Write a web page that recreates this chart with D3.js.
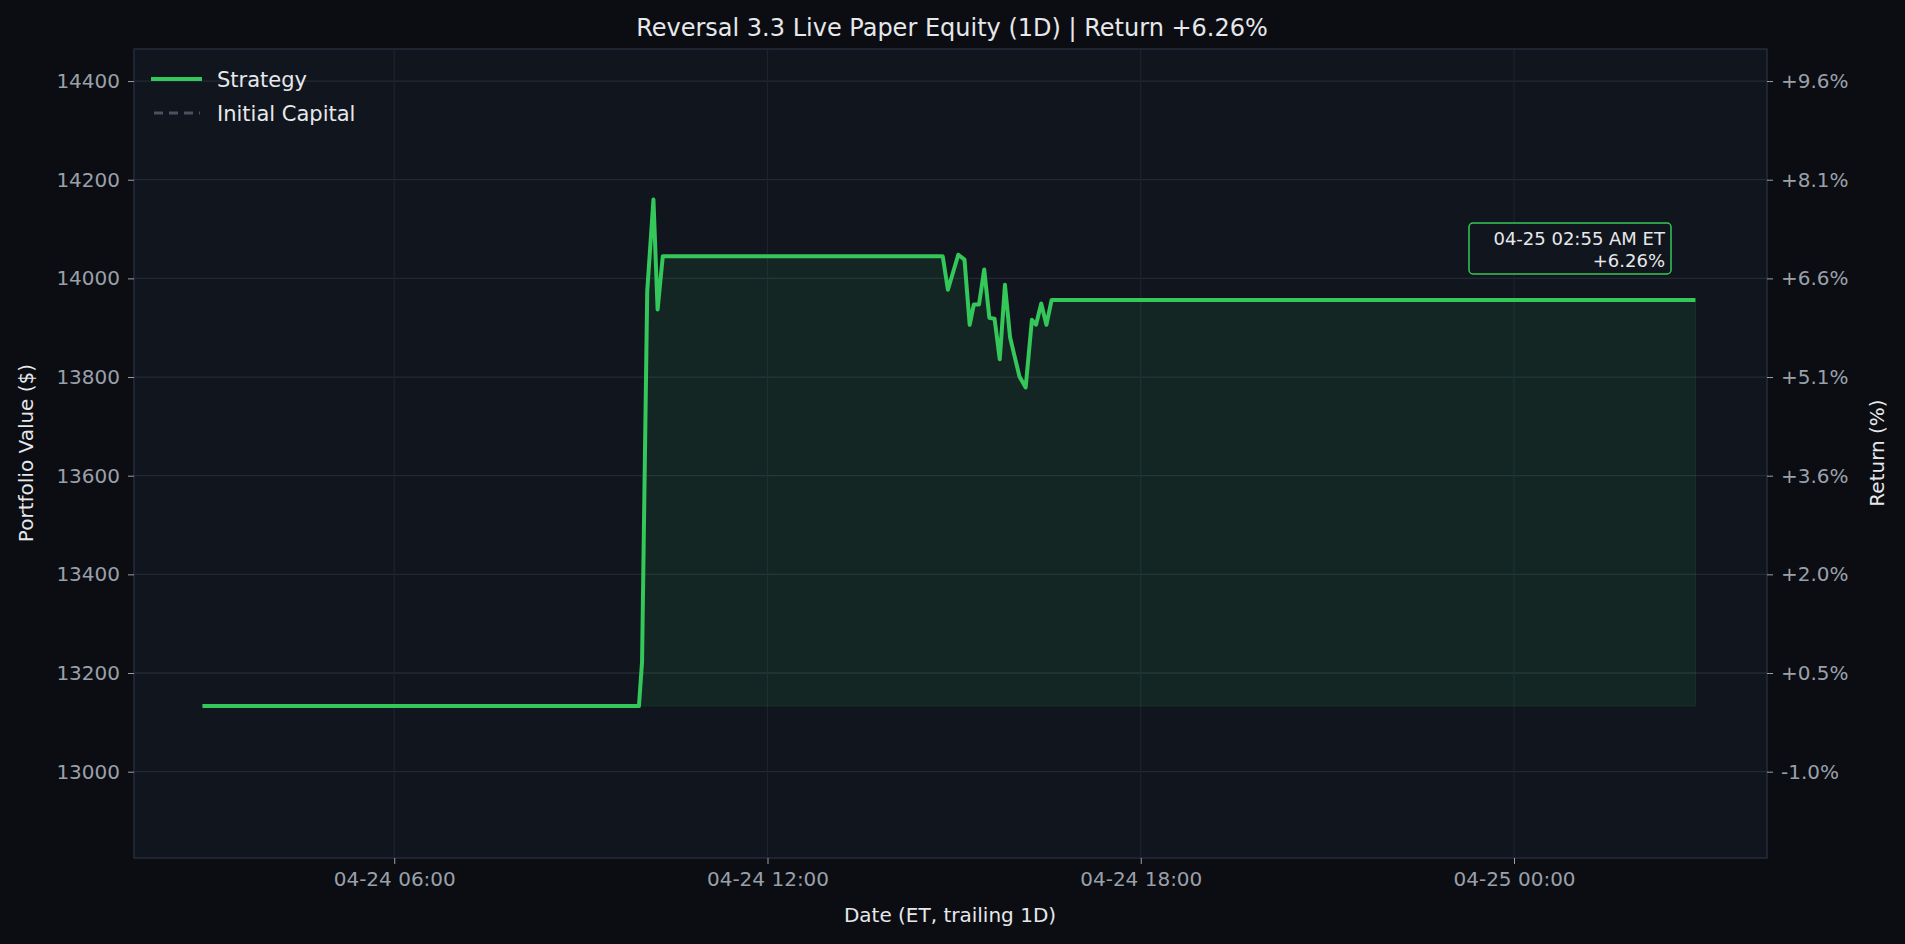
<!DOCTYPE html>
<html><head><meta charset="utf-8">
<script src="https://cdn.jsdelivr.net/npm/d3@7/dist/d3.min.js"></script>
<style>body{margin:0;background:#0b0d12;}svg{display:block;font-family:"DejaVu Sans",sans-serif;}</style>
</head><body><svg id="c" width="1905" height="944"></svg>
<script>
const times = ["2025-04-24 02:55","2025-04-24 09:56","2025-04-24 09:59","2025-04-24 10:04","2025-04-24 10:10","2025-04-24 10:14","2025-04-24 10:19","2025-04-24 14:49","2025-04-24 14:54","2025-04-24 15:04","2025-04-24 15:10","2025-04-24 15:15","2025-04-24 15:19","2025-04-24 15:24","2025-04-24 15:29","2025-04-24 15:34","2025-04-24 15:39","2025-04-24 15:44","2025-04-24 15:49","2025-04-24 15:54","2025-04-24 16:03","2025-04-24 16:09","2025-04-24 16:15","2025-04-24 16:19","2025-04-24 16:24","2025-04-24 16:29","2025-04-24 16:34","2025-04-25 02:55"];
const values = [13133,13133,13222,13974,14160,13937,14045,14045,13977,14048,14038,13906,13947,13947,14018,13920,13918,13836,13987,13880,13801,13779,13916,13906,13949,13906,13956,13956];
const initialCapital = 13133;
const leftTicks = [13000,13200,13400,13600,13800,14000,14200,14400];
const rightTickLabels = ["-1.0%","+0.5%","+2.0%","+3.6%","+5.1%","+6.6%","+8.1%","+9.6%"];
const xTicks = ["2025-04-24 06:00","2025-04-24 12:00","2025-04-24 18:00","2025-04-25 00:00"];
const title = "Reversal 3.3 Live Paper Equity (1D)  |  Return +6.26%";
const annot = ["04-25 02:55 AM ET","+6.26%"];

const parse = d3.timeParse("%Y-%m-%d %H:%M");
const data = times.map((t,i)=>({t:parse(t),v:values[i]}));
const L=134,R=1767,T=49,B=858;
const svg=d3.select("#c");
svg.append("rect").attr("width",1905).attr("height",944).attr("fill","#0b0d12");
const x=d3.scaleTime().domain([parse("2025-04-24 01:49"),parse("2025-04-25 04:04")]).range([L,R]);
const y=d3.scaleLinear().domain([12825,14465]).range([B,T]);
svg.append("rect").attr("x",L).attr("y",T).attr("width",R-L).attr("height",B-T).attr("fill","#11151d");
const g=svg.append("g");
leftTicks.forEach(v=>g.append("line").attr("x1",L).attr("x2",R).attr("y1",y(v)).attr("y2",y(v)).attr("stroke","#222836").attr("stroke-width",1.3));
xTicks.forEach(t=>g.append("line").attr("y1",T).attr("y2",B).attr("x1",x(parse(t))).attr("x2",x(parse(t))).attr("stroke","#1c2230").attr("stroke-width",1.3));
const fillData=data.slice(1);
svg.append("path").datum(fillData).attr("d",d3.area().x(d=>x(d.t)).y0(y(initialCapital)).y1(d=>y(d.v)))
 .attr("fill","#34c759").attr("fill-opacity",0.1).attr("stroke","#34c759").attr("stroke-opacity",0.12);
svg.append("path").datum(data).attr("d",d3.line().x(d=>x(d.t)).y(d=>y(d.v)))
 .attr("fill","none").attr("stroke","#34c759").attr("stroke-width",4).attr("stroke-linejoin","round");
svg.append("rect").attr("x",L).attr("y",T).attr("width",R-L).attr("height",B-T).attr("fill","none").attr("stroke","#283040").attr("stroke-width",1.3);
// axes
const ax=svg.append("g").attr("transform",`translate(0,${B})`).call(d3.axisBottom(x).tickValues(xTicks.map(parse)).tickFormat(d3.timeFormat("%m-%d %H:%M")).tickSize(6).tickPadding(8));
const ay=svg.append("g").attr("transform",`translate(${L},0)`).call(d3.axisLeft(y).tickValues(leftTicks).tickFormat(d3.format("d")).tickSize(6).tickPadding(8));
const ar=svg.append("g").attr("transform",`translate(${R},0)`).call(d3.axisRight(y).tickValues(leftTicks).tickFormat((d,i)=>rightTickLabels[i]).tickSize(6).tickPadding(8));
[ax,ay,ar].forEach(a=>{a.select(".domain").remove();a.selectAll("line").attr("stroke","#9aa0aa");a.selectAll("text").attr("fill","#9aa0aa").attr("font-size",20).attr("font-family","DejaVu Sans");});
svg.append("text").attr("x",952).attr("y",36).attr("text-anchor","middle").attr("fill","#e6e8eb").attr("font-size",24).text(title);
svg.append("text").attr("x",950).attr("y",922).attr("text-anchor","middle").attr("fill","#e6e8eb").attr("font-size",20).text("Date (ET, trailing 1D)");
svg.append("text").attr("transform","translate(33,453) rotate(-90)").attr("text-anchor","middle").attr("fill","#e6e8eb").attr("font-size",20).text("Portfolio Value ($)");
svg.append("text").attr("transform","translate(1884,453) rotate(-90)").attr("text-anchor","middle").attr("fill","#e6e8eb").attr("font-size",20).text("Return (%)");
// legend
svg.append("line").attr("x1",151).attr("x2",202).attr("y1",79).attr("y2",79).attr("stroke","#34c759").attr("stroke-width",4);
svg.append("line").attr("x1",154).attr("x2",200).attr("y1",113).attr("y2",113).attr("stroke","#4a5160").attr("stroke-width",3).attr("stroke-dasharray","9,6");
svg.append("text").attr("x",217).attr("y",87).attr("fill","#e6e8eb").attr("font-size",21).text("Strategy");
svg.append("text").attr("x",217).attr("y",121).attr("fill","#e6e8eb").attr("font-size",21).text("Initial Capital");
// annotation
svg.append("rect").attr("x",1469).attr("y",223).attr("width",202).attr("height",51).attr("rx",4).attr("fill","#11151d").attr("stroke","#34c759").attr("stroke-width",1.5);
svg.append("text").attr("x",1665).attr("y",245).attr("text-anchor","end").attr("fill","#e6e8eb").attr("font-size",18).text(annot[0]);
svg.append("text").attr("x",1665).attr("y",267).attr("text-anchor","end").attr("fill","#e6e8eb").attr("font-size",18).text(annot[1]);
</script></body></html>
